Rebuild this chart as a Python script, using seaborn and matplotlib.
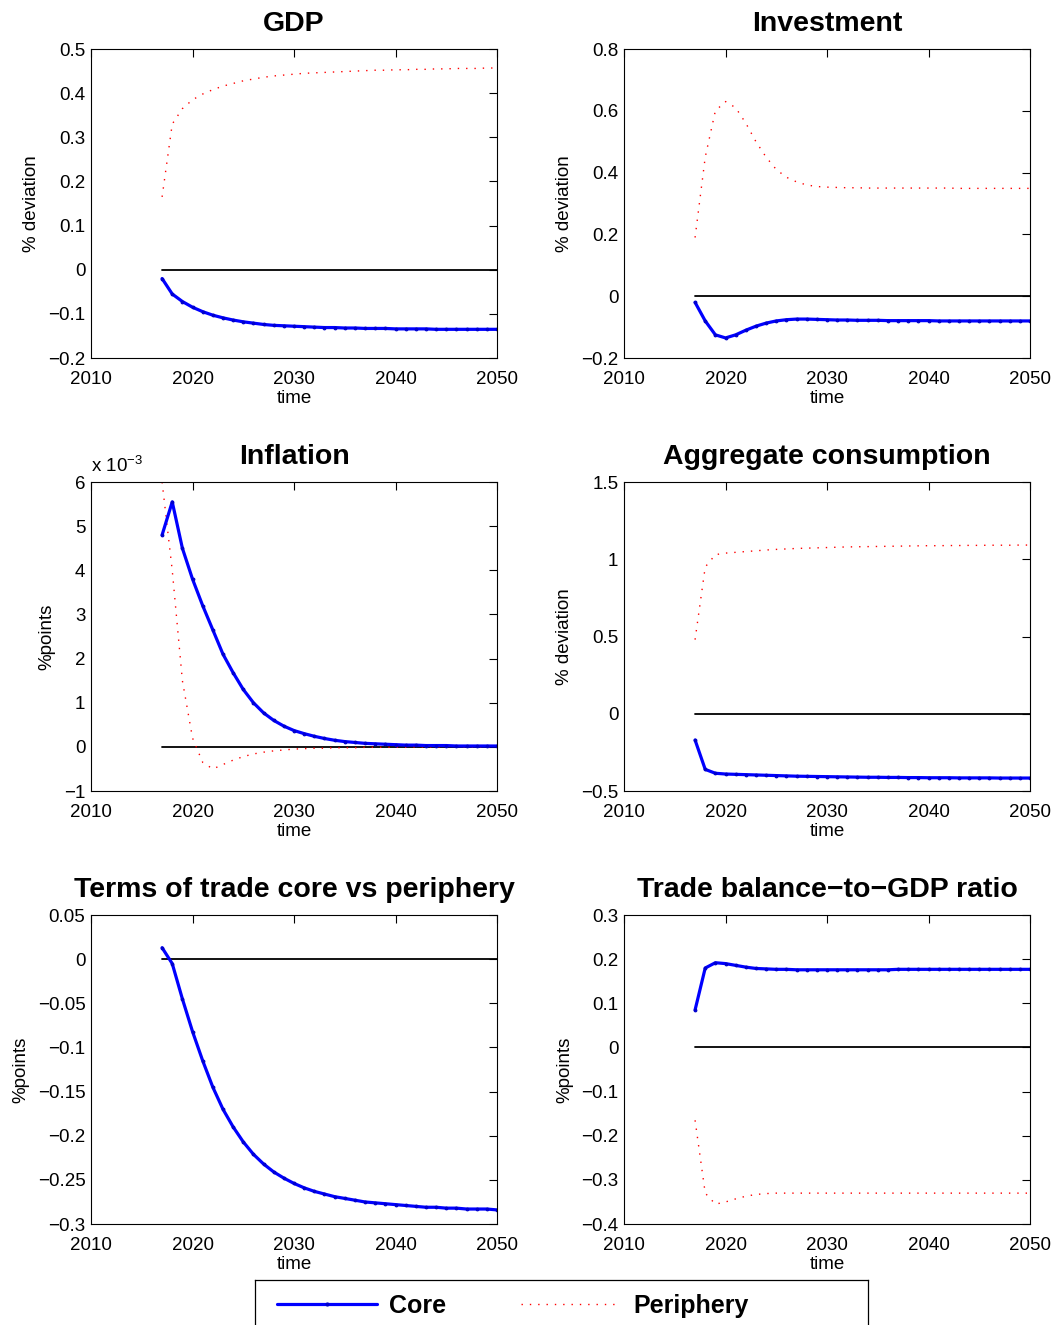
import matplotlib
matplotlib.use("Agg")
import matplotlib.pyplot as plt
import seaborn as sns
from matplotlib.lines import Line2D

# annual horizon of the impulse responses
years = list(range(2017, 2051))

# GDP, % deviation
gdp_core = [-0.020, -0.055, -0.072, -0.085, -0.095, -0.103, -0.109, -0.114, -0.118, -0.121,
            -0.124, -0.126, -0.127, -0.128, -0.129, -0.130, -0.131, -0.131, -0.132, -0.132,
            -0.133, -0.133, -0.133, -0.134, -0.134, -0.134, -0.134, -0.135, -0.135, -0.135,
            -0.135, -0.135, -0.135, -0.135]
gdp_peri = [0.165, 0.330, 0.365, 0.385, 0.398, 0.408, 0.416, 0.422, 0.428, 0.432,
            0.436, 0.439, 0.441, 0.443, 0.445, 0.446, 0.447, 0.448, 0.449, 0.450,
            0.451, 0.452, 0.452, 0.453, 0.453, 0.454, 0.454, 0.455, 0.455, 0.456,
            0.456, 0.456, 0.457, 0.457]

# Investment, % deviation
inv_core = [-0.020, -0.080, -0.125, -0.135, -0.125, -0.110, -0.097, -0.087, -0.080, -0.076,
            -0.074, -0.074, -0.075, -0.076, -0.077, -0.077, -0.078, -0.078, -0.078, -0.079,
            -0.079, -0.079, -0.079, -0.079, -0.080, -0.080, -0.080, -0.080, -0.080, -0.080,
            -0.080, -0.080, -0.080, -0.080]
inv_peri = [0.190, 0.450, 0.600, 0.630, 0.610, 0.560, 0.500, 0.450, 0.410, 0.385,
            0.370, 0.360, 0.355, 0.353, 0.352, 0.351, 0.351, 0.350, 0.350, 0.350,
            0.350, 0.350, 0.350, 0.350, 0.350, 0.350, 0.349, 0.349, 0.349, 0.349,
            0.349, 0.349, 0.349, 0.349]

# Inflation, %points (x 1e-3)
infl_core = [4.80, 5.55, 4.50, 3.80, 3.20, 2.65, 2.10, 1.68, 1.30, 1.00,
             0.77, 0.60, 0.47, 0.37, 0.30, 0.24, 0.19, 0.15, 0.12, 0.10,
             0.08, 0.07, 0.06, 0.05, 0.04, 0.04, 0.03, 0.03, 0.03, 0.02,
             0.02, 0.02, 0.02, 0.02]
infl_peri = [6.00, 4.00, 1.50, 0.20, -0.35, -0.50, -0.40, -0.30, -0.22, -0.16,
             -0.12, -0.09, -0.07, -0.05, -0.04, -0.03, -0.03, -0.02, -0.02, -0.02,
             -0.01, -0.01, -0.01, -0.01, -0.01, 0.00, 0.00, 0.00, 0.00, 0.00,
             0.00, 0.00, 0.00, 0.00]

# Aggregate consumption, % deviation
cons_core = [-0.170, -0.360, -0.385, -0.390, -0.392, -0.394, -0.396, -0.398, -0.400, -0.402,
             -0.404, -0.405, -0.406, -0.407, -0.408, -0.409, -0.410, -0.411, -0.411, -0.412,
             -0.412, -0.413, -0.413, -0.414, -0.414, -0.414, -0.415, -0.415, -0.415, -0.415,
             -0.416, -0.416, -0.416, -0.416]
cons_peri = [0.480, 0.950, 1.030, 1.040, 1.045, 1.050, 1.055, 1.060, 1.064, 1.067,
             1.070, 1.072, 1.074, 1.076, 1.078, 1.080, 1.081, 1.082, 1.083, 1.084,
             1.085, 1.086, 1.087, 1.088, 1.088, 1.089, 1.089, 1.090, 1.090, 1.091,
             1.091, 1.091, 1.092, 1.092]

# Terms of trade core vs periphery, %points
tot_core = [0.013, -0.005, -0.045, -0.082, -0.115, -0.145, -0.170, -0.190, -0.207, -0.221,
            -0.232, -0.241, -0.248, -0.254, -0.259, -0.263, -0.266, -0.269, -0.271, -0.273,
            -0.275, -0.276, -0.277, -0.278, -0.279, -0.280, -0.281, -0.281, -0.282, -0.282,
            -0.283, -0.283, -0.283, -0.284]

# Trade balance-to-GDP ratio, %points
tb_core = [0.085, 0.180, 0.192, 0.190, 0.186, 0.182, 0.179, 0.178, 0.177, 0.177,
           0.176, 0.176, 0.176, 0.176, 0.176, 0.176, 0.176, 0.176, 0.176, 0.176,
           0.177, 0.177, 0.177, 0.177, 0.177, 0.177, 0.177, 0.177, 0.177, 0.177,
           0.177, 0.177, 0.177, 0.177]
tb_peri = [-0.165, -0.330, -0.355, -0.350, -0.343, -0.337, -0.333, -0.331, -0.330, -0.330,
           -0.330, -0.330, -0.330, -0.330, -0.330, -0.330, -0.330, -0.330, -0.330, -0.330,
           -0.330, -0.330, -0.330, -0.330, -0.330, -0.330, -0.330, -0.330, -0.330, -0.330,
           -0.330, -0.330, -0.330, -0.330]

zeros = [0.0] * len(years)

sns.set_style("white")
plt.rcParams['font.family'] = ['Liberation Sans', 'DejaVu Sans']
plt.rcParams['mathtext.default'] = 'regular'
plt.rcParams['text.color'] = 'black'
plt.rcParams['axes.labelcolor'] = 'black'

CORE_KW = dict(color='#0000ff', linewidth=2.3, marker='.', markersize=4,
               markeredgecolor='#0000cc', markerfacecolor='#0000cc')
PERI_KW = dict(color='#ff0000', linewidth=1.0, linestyle=(0, (1, 5)))

fig = plt.figure(figsize=(10.55, 13.25), dpi=100)

# panel positions in figure coords (left, bottom)
W, H = 0.3848, 0.2332
lefts = [0.0863, 0.5915]
bottoms = [0.7298, 0.4030, 0.0762]

panels = [
    ("GDP", "% deviation", gdp_core, gdp_peri, (-0.2, 0.5), [-0.2, -0.1, 0, 0.1, 0.2, 0.3, 0.4, 0.5]),
    ("Investment", "% deviation", inv_core, inv_peri, (-0.2, 0.8), [-0.2, 0, 0.2, 0.4, 0.6, 0.8]),
    ("Inflation", "%points", infl_core, infl_peri, (-1, 6), [-1, 0, 1, 2, 3, 4, 5, 6]),
    ("Aggregate consumption", "% deviation", cons_core, cons_peri, (-0.5, 1.5), [-0.5, 0, 0.5, 1, 1.5]),
    ("Terms of trade core vs periphery", "%points", tot_core, None, (-0.3, 0.05),
     [-0.3, -0.25, -0.2, -0.15, -0.1, -0.05, 0, 0.05]),
    ("Trade balance\u2212to\u2212GDP ratio", "%points", tb_core, tb_peri, (-0.4, 0.3),
     [-0.4, -0.3, -0.2, -0.1, 0, 0.1, 0.2, 0.3]),
]


def fmt(v):
    return ('%g' % v).replace('-', '\u2212')


for i, (title, ylab, core, peri, ylim, yticks) in enumerate(panels):
    r, c = divmod(i, 2)
    ax = fig.add_axes([lefts[c], bottoms[r], W, H])
    sns.lineplot(x=years, y=zeros, ax=ax, color='black', linewidth=1.3)
    if peri is not None:
        sns.lineplot(x=years, y=peri, ax=ax, **PERI_KW)
    sns.lineplot(x=years, y=core, ax=ax, **CORE_KW)
    ax.set_xlim(2010, 2050)
    ax.set_ylim(*ylim)
    ax.set_xticks([2010, 2020, 2030, 2040, 2050])
    ax.set_xticklabels(['2010', '2020', '2030', '2040', '2050'])
    ax.set_yticks(yticks)
    ax.set_yticklabels([fmt(v) for v in yticks])
    ax.tick_params(direction='in', top=True, right=True, length=6, width=0.8,
                   labelsize=13.5, colors='black')
    ax.tick_params(axis='x', pad=9)
    ax.tick_params(axis='y', pad=4)
    for sp in ax.spines.values():
        sp.set_visible(True)
        sp.set_color('black')
        sp.set_linewidth(0.8)
    ax.set_title(title, fontsize=20.5, fontweight='bold', pad=13, color='black')
    ax.set_xlabel('time', fontsize=13.5, labelpad=2)
    ax.set_ylabel(ylab, fontsize=13.5, labelpad=6)
    if title == "Inflation":
        ax.text(0.0, 1.02, 'x 10$^{-3}$', transform=ax.transAxes,
                fontsize=13.5, ha='left', va='bottom')

# legend box: an empty axes whose frame runs past the bottom edge of the figure
lax = fig.add_axes([0.2417, -0.02, 0.581, 0.054])
lax.set_xticks([])
lax.set_yticks([])
for sp in lax.spines.values():
    sp.set_color('black')
    sp.set_linewidth(0.9)
handles = [Line2D([], [], **CORE_KW), Line2D([], [], **PERI_KW)]
lax.legend(handles, ['Core', 'Periphery'], loc='center left',
           bbox_to_anchor=(0.036, 0.64), borderaxespad=0, borderpad=0, ncol=2,
           frameon=False, prop={'weight': 'bold', 'size': 18},
           handlelength=4.0, columnspacing=3.0, handletextpad=0.48)

fig.savefig('out.png', dpi=100)
